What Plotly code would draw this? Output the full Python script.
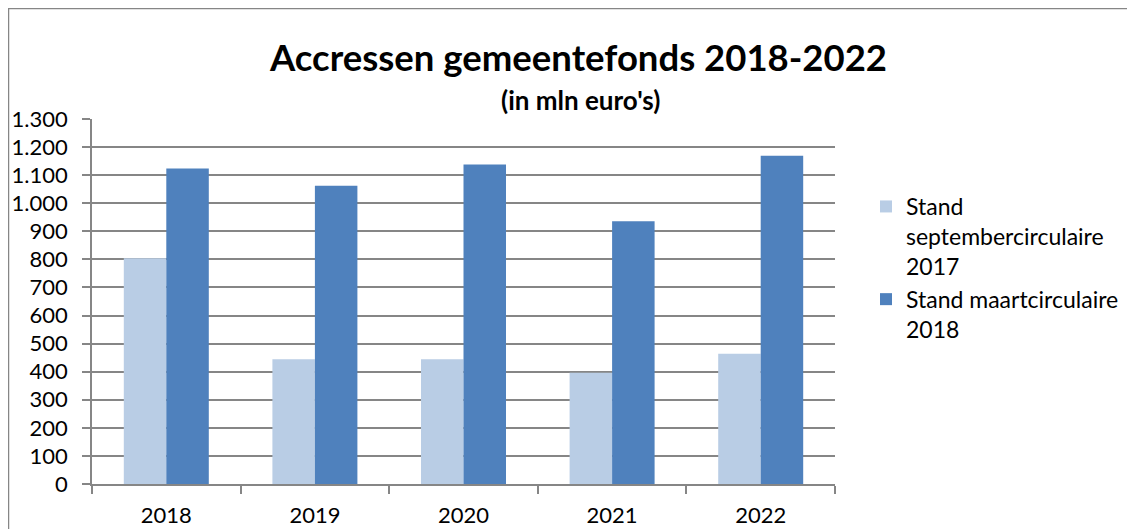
import plotly.graph_objects as go

years = ["2018", "2019", "2020", "2021", "2022"]
sept_2017 = [804, 444, 444, 396, 464]
maart_2018 = [1124, 1062, 1138, 936, 1169]
series_names = ["Stand<br>septembercirculaire<br>2017", "Stand maartcirculaire<br>2018"]
title_text = "Accressen gemeentefonds 2018-2022"
subtitle_text = "(in mln euro's)"

# the page body has an 8px margin, so the figure is laid out 8px up/left
OFF = 8
W, H = 1135 - OFF, 529 - OFF
L, R, T, B = 92 - OFF, 835 - OFF, 119 - OFF, 484 - OFF
PW, PH = R - L, B - T
FONT = "Lato"
GRID = "#868686"

def px_x(px):
    return (px - OFF - L) / PW

def px_y(py):
    return (B - (py - OFF)) / PH

fig = go.Figure()
fig.add_trace(go.Bar(x=years, y=sept_2017, name=series_names[0],
                     marker=dict(color="#B9CDE5", line=dict(width=0))))
fig.add_trace(go.Bar(x=years, y=maart_2018, name=series_names[1],
                     marker=dict(color="#4F81BD", line=dict(width=0))))

fig.update_layout(
    width=W, height=H,
    margin=dict(l=L, r=W - R, t=T, b=H - B, pad=0, autoexpand=False),
    paper_bgcolor="white", plot_bgcolor="white",
    separators=",.",
    barmode="group", bargap=0.428, bargroupgap=0,
    font=dict(family=FONT, size=22, color="black"),
    showlegend=True,
    legend=dict(xref="container", yref="container", x=(866 - OFF) / W,
                y=1 - (185 - OFF) / H,
                xanchor="left", yanchor="top", valign="top",
                font=dict(family=FONT, size=23, color="black"),
                bgcolor="rgba(0,0,0,0)", tracegroupgap=0),
    xaxis=dict(showline=True, linecolor=GRID, linewidth=1.5, ticks="outside",
               tickson="boundaries", ticklen=8, tickcolor=GRID, tickwidth=1.5,
               showgrid=False, automargin=False, ticklabelstandoff=11,
               tickfont=dict(family=FONT, size=22)),
    yaxis=dict(range=[0, 1300], dtick=100, tickformat=",d", showline=True,
               linecolor=GRID, linewidth=1.5, ticks="outside", ticklen=8,
               tickcolor=GRID, tickwidth=1.5, showgrid=True, gridcolor=GRID,
               gridwidth=1.5, zeroline=False, ticklabelstandoff=10, automargin=False,
               tickfont=dict(family=FONT, size=22)),
)

fig.add_annotation(text="<b>" + title_text + "</b>", xref="paper", yref="paper",
                   x=px_x(578), y=px_y(57), xanchor="center", yanchor="middle",
                   showarrow=False, font=dict(family=FONT, size=36.5, color="black"))
fig.add_annotation(text="<b>" + subtitle_text + "</b>", xref="paper", yref="paper",
                   x=px_x(580), y=px_y(100), xanchor="center", yanchor="middle",
                   showarrow=False, font=dict(family=FONT, size=26, color="black"))

# outer chart frame
fig.add_shape(type="line", xref="paper", yref="paper", x0=px_x(3), x1=px_x(1140),
              y0=px_y(8.5), y1=px_y(8.5), line=dict(color=GRID, width=1.5))
fig.add_shape(type="line", xref="paper", yref="paper", x0=px_x(8.5), x1=px_x(8.5),
              y0=px_y(8.5), y1=px_y(540), line=dict(color=GRID, width=1.5))

fig.write_html("out.html")
